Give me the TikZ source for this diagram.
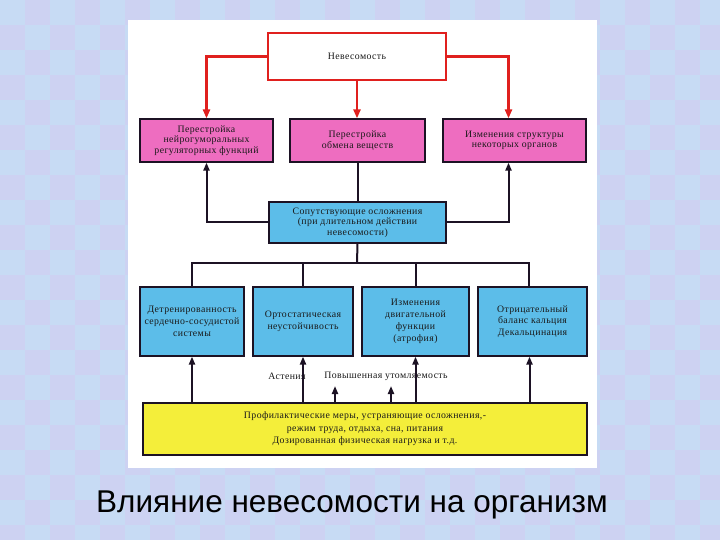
\documentclass[tikz,border=0pt]{standalone}
\usepackage{fontspec}
\setmainfont{Liberation Serif}[LetterSpace=4]
\newfontfamily\capfont{Liberation Sans}
\usetikzlibrary{arrows.meta,calc}
\definecolor{bgA}{HTML}{CDD2F2}
\definecolor{bgB}{HTML}{C7DBF4}
\definecolor{pinkfill}{HTML}{EE6DC0}
\definecolor{bluefill}{HTML}{5CBDE9}
\definecolor{yellowfill}{HTML}{F4EE3A}
\definecolor{redline}{HTML}{E0201E}
\definecolor{darkline}{HTML}{1C1224}
\tikzset{
  boxtext/.style={font=\fontsize{9.8}{10.6}\selectfont, align=center, text=black!90, inner sep=0pt},
  pinkbox/.style={boxtext, draw=darkline, line width=1.2pt, fill=pinkfill, minimum height=43pt},
  bluebox/.style={boxtext, draw=darkline, line width=1.2pt, fill=bluefill},
  widelines/.style={font=\fontsize{9.8}{11.8}\selectfont},
  yellowbox/.style={boxtext, draw=darkline, line width=1.2pt, fill=yellowfill, font=\fontsize{9.8}{12.4}\selectfont},
  redarrow/.style={draw=redline, line width=2.6pt, -{Triangle[width=7pt,length=9pt]}},
  blackline/.style={draw=darkline, line width=2pt},
  blackarrow/.style={blackline, -{Triangle[width=6pt,length=8pt]}},
}
\begin{document}
\begin{tikzpicture}[x=1pt,y=-1pt]
\useasboundingbox (0,0) rectangle (720,540);
% background
\fill[bgA] (0,0) rectangle (720,540);
\foreach \i in {0,...,28}{\foreach \j in {0,...,21}{
  \pgfmathtruncatemacro{\myparity}{mod(\i+\j,2)}
  \ifnum\myparity=0 \fill[bgB] (\i*25,\j*25) rectangle ++(25,25);\fi
}}
\fill[white] (128,20) rectangle (597,468);
% nodes
\node[draw=redline, line width=2pt, fill=white, minimum width=178pt, minimum height=47pt, boxtext] (top) at (357,56.5) {Невесомость};
\node[pinkbox, minimum width=133pt] (pl) at (206.5,140.5) {Перестройка\\нейрогуморальных\\регуляторных функций};
\node[pinkbox, minimum width=135pt] (pm) at (357.5,140.5) {Перестройка\\обмена веществ};
\node[pinkbox, minimum width=143pt] (pr) at (514.5,140.5) {Изменения структуры\\некоторых органов};
\node[bluebox, minimum width=177pt, minimum height=41pt] (bc) at (357.5,222.5) {Сопутствующие осложнения\\(при длительном действии\\невесомости)};
\node[bluebox, widelines, minimum width=104pt, minimum height=69pt] (b1) at (192,321.5) {Детренированность\\сердечно-сосудистой\\системы};
\node[bluebox, widelines, minimum width=100pt, minimum height=69pt] (b2) at (303,321.5) {Ортостатическая\\неустойчивость};
\node[bluebox, widelines, minimum width=107pt, minimum height=69pt] (b3) at (415.5,321.5) {Изменения\\двигательной\\функции\\(атрофия)};
\node[bluebox, widelines, minimum width=109pt, minimum height=69pt] (b4) at (532.5,321.5) {Отрицательный\\баланс кальция\\Декальцинация};
\node[yellowbox, minimum width=444pt, minimum height=52pt] (yb) at (365,429) {Профилактические меры, устраняющие осложнения,-\\режим труда, отдыха, сна, питания\\Дозированная физическая нагрузка и т.д.};
\node[boxtext] (ast) at (287,376) {Астения};
\node[boxtext] (ustal) at (386,376) {Повышенная утомляемость};
\node[font=\capfont\fontsize{31.5}{38}\selectfont, inner sep=0pt] (cap) at (352,505) {Влияние невесомости на организм};
% red arrows
\draw[redarrow] (top.west) -| (pl.north);
\draw[redarrow] (top.south) -- (top.south |- pm.north);
\draw[redarrow] (top.east) -| ([xshift=-6pt]pr.north);
% black up arrows to pink
\draw[blackarrow] (bc.west) -| (pl.south);
\draw[blackline] (bc.north) -- (bc.north |- pm.south);
\draw[blackarrow] (bc.east) -| ([xshift=-6pt]pr.south);
% bus
\coordinate (bus) at (357,263);
\draw[blackline] (bc.south) -- (bus);
\draw[blackline] (b1.north) |- (bus) -| ([xshift=-3.5pt]b4.north);
\draw[blackline] (b2.north) -- (b2.north |- bus);
\draw[blackline] (b3.north) -- (b3.north |- bus);
% arrows from yellow
\draw[blackarrow] (b1.south |- yb.north) -- (b1.south);
\draw[blackarrow] (b2.south |- yb.north) -- (b2.south);
\draw[blackarrow] (b3.south |- yb.north) -- (b3.south);
\draw[blackarrow] ([xshift=-3pt]b4.south |- yb.north) -- ([xshift=-3pt]b4.south);
\coordinate (s1) at (335,386);
\coordinate (s2) at (391,386);
\draw[blackarrow] (s1 |- yb.north) -- (s1);
\draw[blackarrow] (s2 |- yb.north) -- (s2);
\end{tikzpicture}
\end{document}
